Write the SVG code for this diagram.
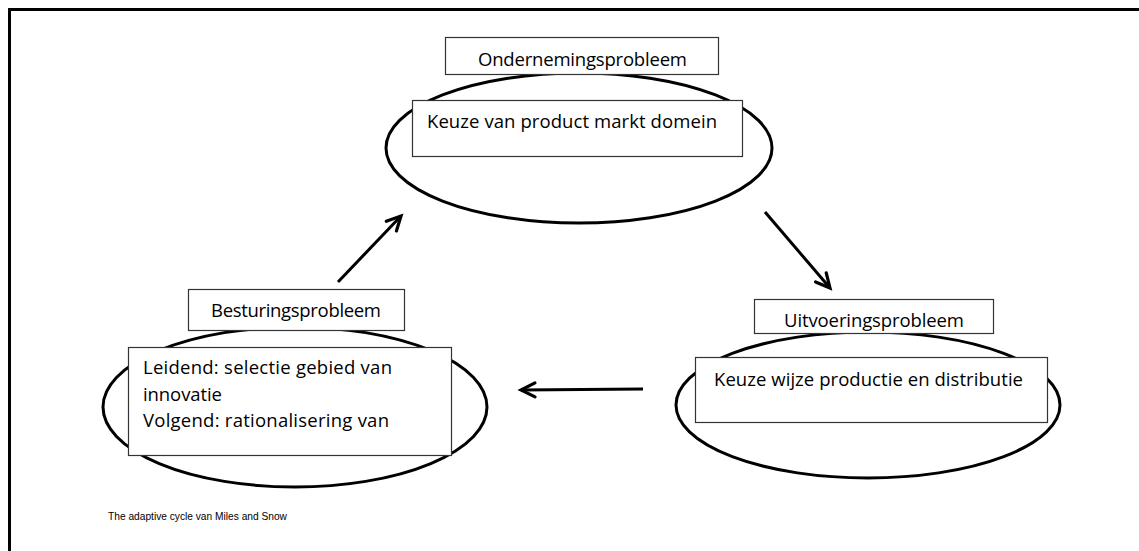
<svg xmlns="http://www.w3.org/2000/svg" width="1139" height="551" viewBox="0 0 1139 551">
<style>
.ell{fill:none;stroke:#000;stroke-width:3}
.box{fill:#fff;stroke:#333;stroke-width:1.2}
.t{font-family:"Open Sans","Liberation Sans",sans-serif;font-size:18.5px;fill:#000}
.cap{font-family:"Liberation Sans",Arial,sans-serif;font-size:10.2px;fill:#000}
.arr{stroke:#000;stroke-width:3;fill:none;marker-end:url(#ah)}
</style>
<defs>
<marker id="ah" markerUnits="userSpaceOnUse" viewBox="-18 -10 22 20" refX="0" refY="0" markerWidth="22" markerHeight="20" orient="auto">
<path d="M-14,-7 L0,0 L-14,7" fill="none" stroke="#000" stroke-width="3.2" stroke-linecap="round" stroke-linejoin="miter"/>
</marker>
</defs>
<rect x="0" y="0" width="1139" height="551" fill="#fff"/>
<path d="M9.5,560 L9.5,9.5 L1150,9.5" fill="none" stroke="#000" stroke-width="3"/>

<g id="connectors">
<line class="arr" x1="338" y1="282" x2="401" y2="216"/>
<line class="arr" x1="765" y1="212" x2="830" y2="288"/>
<line class="arr" x1="643" y1="389" x2="521" y2="390"/>
</g>

<g id="ondernemingsprobleem">
<ellipse class="ell" cx="579" cy="148" rx="193" ry="75"/>
<rect class="box" x="445.5" y="37.5" width="273" height="37"/>
<text class="t" x="478" y="66" textLength="209">Ondernemingsprobleem</text>
<rect class="box" x="412.5" y="100.5" width="330" height="56"/>
<text class="t" x="427" y="128" textLength="290">Keuze van product markt domein</text>
</g>

<g id="besturingsprobleem">
<ellipse class="ell" cx="295" cy="407" rx="192" ry="80"/>
<rect class="box" x="188.5" y="289.5" width="216" height="41"/>
<text class="t" x="211" y="317" textLength="170">Besturingsprobleem</text>
<rect class="box" x="128.5" y="347.5" width="323" height="108"/>
<text class="t" x="143" y="374" textLength="249">Leidend: selectie gebied van</text>
<text class="t" x="143" y="401" textLength="79">innovatie</text>
<text class="t" x="143" y="427" textLength="246">Volgend: rationalisering van</text>
</g>

<g id="uitvoeringsprobleem">
<ellipse class="ell" cx="868" cy="405" rx="192" ry="73"/>
<rect class="box" x="754.5" y="299.5" width="239" height="34"/>
<text class="t" x="784" y="327" textLength="180">Uitvoeringsprobleem</text>
<rect class="box" x="695.5" y="357.5" width="352" height="65"/>
<text class="t" x="714" y="386" textLength="309">Keuze wijze productie en distributie</text>
</g>

<text class="cap" x="108" y="520">The adaptive cycle van Miles and Snow</text>
</svg>
